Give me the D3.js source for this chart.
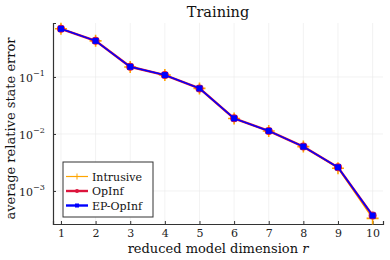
<!DOCTYPE html>
<html>
<head>
<meta charset="utf-8">
<script src="https://cdn.jsdelivr.net/npm/d3@7"></script>
<style>
  body { margin: 0; background: #fff; }
  text { font-family: "DejaVu Serif", "Liberation Serif", serif; }
</style>
</head>
<body>
<div id="chart"></div>
<script>
// data
const dims = [1, 2, 3, 4, 5, 6, 7, 8, 9, 10];
const intrusive = [0.70, 0.43, 0.150, 0.108, 0.063, 0.0187, 0.0113, 0.0060, 0.0025, 0.00033];
const opinf = [0.70, 0.43, 0.151, 0.108, 0.063, 0.0188, 0.0113, 0.0060, 0.0026, 0.00037];
const epopinf = [0.70, 0.43, 0.151, 0.108, 0.063, 0.0188, 0.0113, 0.0060, 0.0026, 0.00037];
const yTicks = [1e-3, 1e-2, 1e-1];
const yTickExp = ["−3", "−2", "−1"];

const W = 390, H = 260;
const margin = { top: 23, right: 7, bottom: 36, left: 53 },
      width = W - margin.left - margin.right,
      height = H - margin.top - margin.bottom;

const svg = d3.select("#chart").append("svg")
    .attr("width", W)
    .attr("height", H);

const g = svg.append("g")
    .attr("transform", `translate(${margin.left},${margin.top})`);

const x = d3.scaleLinear()
    .domain([0.77, 10.3])
    .range([0, width]);

const y = d3.scaleLog()
    .domain([Math.pow(10, -3.58), Math.pow(10, -0.053)])
    .range([height, 0]);

// grid
g.append("g").selectAll("line")
    .data(dims)
    .enter().append("line")
    .attr("x1", d => x(d)).attr("x2", d => x(d))
    .attr("y1", 0).attr("y2", height)
    .attr("stroke", "#e9e9e9").attr("stroke-width", 0.6);
g.append("g").selectAll("line")
    .data(yTicks)
    .enter().append("line")
    .attr("x1", 0).attr("x2", width)
    .attr("y1", d => y(d)).attr("y2", d => y(d))
    .attr("stroke", "#e9e9e9").attr("stroke-width", 0.6);

// axes
const xAxis = g.append("g")
    .attr("transform", `translate(0,${height})`)
    .call(d3.axisBottom(x).tickValues(dims).tickSize(-3).tickPadding(5).tickFormat(d3.format("d")));
xAxis.select(".domain").attr("stroke", "#333").attr("stroke-width", 1.2);
xAxis.selectAll(".tick line").attr("stroke", "#333");
xAxis.selectAll("text").attr("font-size", 11).attr("fill", "#222")
    .style("font-family", "DejaVu Serif");

const yAxis = g.append("g")
    .call(d3.axisLeft(y).tickValues(yTicks).tickSize(-3).tickPadding(6).tickFormat(""));
yAxis.select(".domain").attr("stroke", "#333").attr("stroke-width", 1.2);
yAxis.selectAll(".tick line").attr("stroke", "#333");

yAxis.selectAll(".tick").append("text")
    .attr("x", -20).attr("y", 5)
    .attr("text-anchor", "end")
    .attr("font-size", 11)
    .attr("fill", "#222")
    .text("10");
yAxis.selectAll(".tick").append("text")
    .attr("x", -20).attr("y", -1)
    .attr("text-anchor", "start")
    .attr("font-size", 8)
    .attr("fill", "#222")
    .text((d, i) => yTickExp[i]);

// lines
const line = d3.line()
    .x((d, i) => x(dims[i]))
    .y(d => y(d));

g.append("path").datum(intrusive)
    .attr("fill", "none").attr("stroke", "orange").attr("stroke-width", 1.2)
    .attr("d", line);
g.selectAll(".cross")
    .data(intrusive)
    .enter().append("path")
    .attr("class", "cross")
    .attr("transform", (d, i) => `translate(${x(dims[i])},${y(d)})`)
    .attr("d", "M-6,0H6M0,-6V6")
    .attr("stroke", "orange").attr("stroke-width", 1.6);

g.append("path").datum(opinf)
    .attr("fill", "none").attr("stroke", "crimson").attr("stroke-width", 2.4)
    .attr("d", line);
g.selectAll(".dot")
    .data(opinf)
    .enter().append("circle")
    .attr("class", "dot")
    .attr("cx", (d, i) => x(dims[i]))
    .attr("cy", d => y(d))
    .attr("r", 4)
    .attr("fill", "crimson");

g.append("path").datum(epopinf)
    .attr("fill", "none").attr("stroke", "blue").attr("stroke-width", 1.5)
    .attr("d", line);
g.selectAll(".sq")
    .data(epopinf)
    .enter().append("rect")
    .attr("class", "sq")
    .attr("x", (d, i) => x(dims[i]) - 3)
    .attr("y", d => y(d) - 3)
    .attr("width", 6).attr("height", 6)
    .attr("fill", "blue");

// title and labels
svg.append("text")
    .attr("x", margin.left + width / 2).attr("y", 17)
    .attr("text-anchor", "middle")
    .attr("font-size", 14.5)
    .attr("fill", "#111")
    .text("Training");

const xl = svg.append("text")
    .attr("x", margin.left + width / 2).attr("y", 253)
    .attr("text-anchor", "middle")
    .attr("font-size", 13)
    .attr("fill", "#111");
xl.append("tspan").text("reduced model dimension ");
xl.append("tspan").attr("font-style", "italic").text("r");

svg.append("text")
    .attr("transform", `translate(15,${margin.top + height / 2 + 5}) rotate(-90)`)
    .attr("text-anchor", "middle")
    .attr("font-size", 13)
    .attr("fill", "#111")
    .text("average relative state error");

// legend
const legend = svg.append("g").attr("transform", "translate(63,162)");
legend.append("rect")
    .attr("width", 90).attr("height", 55)
    .attr("fill", "#fff").attr("stroke", "#333").attr("stroke-width", 1);

const items = [
    { name: "Intrusive", color: "orange", w: 1.2, mark: "cross" },
    { name: "OpInf", color: "crimson", w: 2.4, mark: "dot" },
    { name: "EP-OpInf", color: "blue", w: 2.4, mark: "sq" }
];
items.forEach((it, i) => {
    const row = legend.append("g").attr("transform", `translate(0,${14.5 + i * 14.5})`);
    row.append("line")
        .attr("x1", 3).attr("x2", 25)
        .attr("stroke", it.color).attr("stroke-width", it.w);
    if (it.mark === "cross") {
        row.append("path").attr("d", "M11,0H17M14,-3V3")
            .attr("stroke", it.color).attr("stroke-width", 1);
    } else if (it.mark === "dot") {
        row.append("circle").attr("cx", 14).attr("r", 2).attr("fill", it.color);
    } else {
        row.append("rect").attr("x", 12).attr("y", -2).attr("width", 4).attr("height", 4).attr("fill", it.color);
    }
    row.append("text")
        .attr("x", 29).attr("y", 4)
        .attr("font-size", 11)
        .attr("fill", "#111")
        .text(it.name);
});
</script>
</body>
</html>
